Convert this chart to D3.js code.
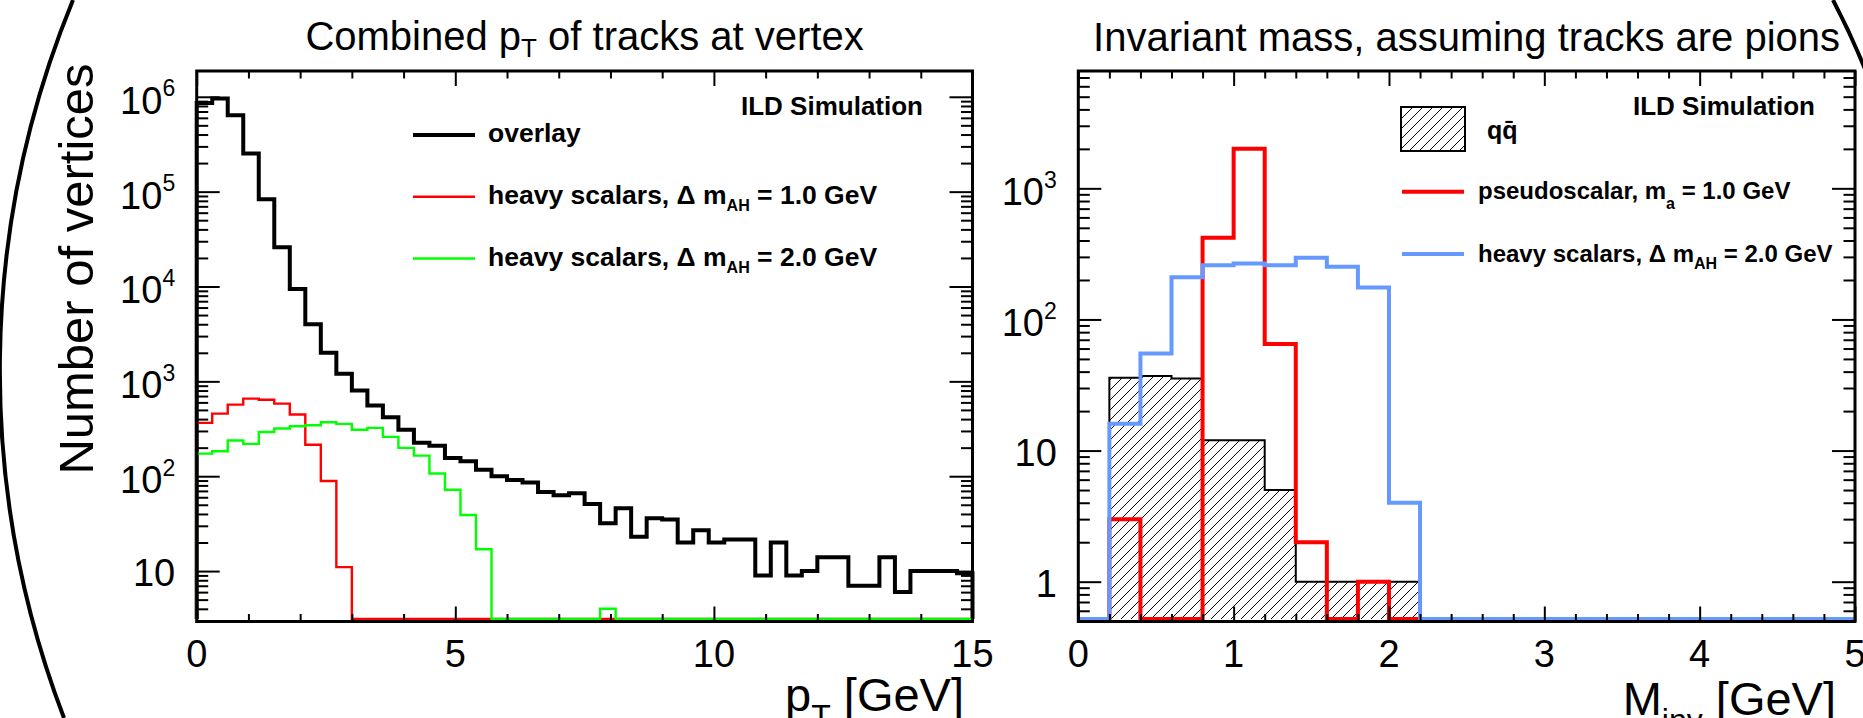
<!DOCTYPE html>
<html>
<head>
<meta charset="utf-8">
<script src="https://cdn.jsdelivr.net/npm/d3@7"></script>
<style>
  body { margin: 0; background: #fff; }
  svg { display: block; }
  svg text { font-family: "Liberation Sans", Arial, Helvetica, sans-serif; }
</style>
</head>
<body>
<script>
// ---- left plot: combined pT of tracks at vertex, 0.3 GeV bins from 0 to 15 ----
var ptBinWidth = 0.3;
var ptOverlay = [8.6e5, 9.6e5, 6.4e5, 2.53e5, 8.3e4, 2.6e4, 9400, 4000, 2000, 1200,
                 800, 555, 418, 309, 225, 210, 156, 144, 117, 100,
                 91, 86, 68, 63, 66, 51, 32, 46, 23, 36,
                 35, 20, 27, 20, 21.5, 21.5, 9, 20, 9, 10,
                 14, 14, 7, 7, 14, 6, 10, 10, 10, 9.5];
var ptHeavy1 = [365, 457, 569, 658, 641, 582, 447, 215, 89, 11,
                0, 0, 0, 0, 0, 0, 0, 0, 0, 0,
                0, 0, 0, 0, 0, 0, 0, 0, 0, 0,
                0, 0, 0, 0, 0, 0, 0, 0, 0, 0,
                0, 0, 0, 0, 0, 0, 0, 0, 0, 0];
var ptHeavy2 = [173, 183, 238, 219, 293, 318, 336, 344, 370, 356,
                309, 323, 260, 199, 165, 107, 72, 39, 17, 0,
                0, 0, 0, 0, 0, 0, 4, 0, 0, 0,
                0, 0, 0, 0, 0, 0, 0, 0, 0, 0,
                0, 0, 0, 0, 0, 0, 0, 0, 0, 0];
var ptXTicks = [0, 5, 10, 15];
var ptYTicks = [10, 1e2, 1e3, 1e4, 1e5, 1e6];
var ptYLabels = ["10", "10^2", "10^3", "10^4", "10^5", "10^6"];

// ---- right plot: invariant mass assuming pions, 0.2 GeV bins from 0 to 5 ----
var mBinWidth = 0.2;
var mQQ     = [0, 36, 37, 35.5, 12, 12, 5, 1, 1, 1, 1, 0, 0, 0, 0, 0, 0, 0, 0, 0, 0, 0, 0, 0, 0];
var mPseudo = [0, 3, 0, 0, 420, 2000, 65, 2, 0, 1, 0, 0, 0, 0, 0, 0, 0, 0, 0, 0, 0, 0, 0, 0, 0];
var mHeavy2 = [0, 16, 55, 210, 259, 267, 259, 295, 252, 175, 4, 0, 0, 0, 0, 0, 0, 0, 0, 0, 0, 0, 0, 0, 0];
var mXTicks = [0, 1, 2, 3, 4, 5];
var mYTicks = [1, 10, 1e2, 1e3];
var mYLabels = ["1", "10", "10^2", "10^3"];

var W = 1863, H = 718;
var svg = d3.select("body").append("svg").attr("width", W).attr("height", H);

var hatch = svg.append("defs").append("pattern")
  .attr("id", "hatch")
  .attr("patternUnits", "userSpaceOnUse")
  .attr("width", 10).attr("height", 10);
hatch.append("path")
  .attr("d", "M-1,1 l2,-2 M0,10 l10,-10 M9,11 l2,-2")
  .attr("stroke", "#000").attr("stroke-width", 1);

// slide border arcs
svg.append("path").attr("d", "M73,0 A974,974 0 0 0 64,718")
  .attr("fill", "none").attr("stroke", "#000").attr("stroke-width", 4);
svg.append("path").attr("d", "M1833,0 A800,800 0 0 1 1893,150")
  .attr("fill", "none").attr("stroke", "#000").attr("stroke-width", 4);

function steps(values, bw) {
  var pts = [[0, 0]];
  values.forEach(function (v, i) { pts.push([i * bw, v], [(i + 1) * bw, v]); });
  pts.push([values.length * bw, 0]);
  return pts;
}

function drawPanel(p) {
  var x = d3.scaleLinear().domain(p.xDomain).range([p.x0, p.x1]);
  var y = d3.scaleLog().domain(p.yDomain).range([p.y1, p.y0]);
  var floorY = p.y1 - 2.5;
  var g = svg.append("g");

  var line = d3.line()
    .x(function (d) { return x(d[0]); })
    .y(function (d) { return d[1] > 0 ? y(d[1]) : floorY; });

  p.series.forEach(function (s) {
    g.append("path")
      .attr("d", line(steps(s.values, p.binWidth)))
      .attr("fill", s.fill || "none")
      .attr("stroke", s.color)
      .attr("stroke-width", s.width)
      .attr("stroke-linejoin", "miter");
  });

  // ticks, all pointing inwards on four sides
  var yMinor = y.ticks().filter(function (v) { return p.yTicks.indexOf(v) < 0; });
  var xMinor = x.ticks(p.xMinorCount).filter(function (v) { return p.xTicks.indexOf(v) < 0; });

  function ax(axis, tx, ty) {
    g.append("g").attr("transform", "translate(" + tx + "," + ty + ")")
      .call(axis.tickFormat(""))
      .call(function (a) { a.select(".domain").remove(); })
      .selectAll("line").attr("stroke", "#000").attr("stroke-width", 2);
  }
  ax(d3.axisBottom(x).tickValues(p.xTicks).tickSize(-15), 0, p.y1);
  ax(d3.axisBottom(x).tickValues(xMinor).tickSize(-7.5), 0, p.y1);
  ax(d3.axisTop(x).tickValues(p.xTicks).tickSize(-15), 0, p.y0);
  ax(d3.axisTop(x).tickValues(xMinor).tickSize(-7.5), 0, p.y0);
  ax(d3.axisLeft(y).tickValues(p.yTicks).tickSize(-23), p.x0, 0);
  ax(d3.axisLeft(y).tickValues(yMinor).tickSize(-11.5), p.x0, 0);
  ax(d3.axisRight(y).tickValues(p.yTicks).tickSize(-23), p.x1, 0);
  ax(d3.axisRight(y).tickValues(yMinor).tickSize(-11.5), p.x1, 0);

  g.append("rect")
    .attr("x", p.x0).attr("y", p.y0)
    .attr("width", p.x1 - p.x0).attr("height", p.y1 - p.y0)
    .attr("fill", "none").attr("stroke", "#000").attr("stroke-width", 3);

  // x tick labels
  g.selectAll(".xl").data(p.xTicks).enter().append("text")
    .attr("x", function (d) { return x(d); })
    .attr("y", 667)
    .attr("text-anchor", "middle")
    .attr("font-size", 38)
    .text(function (d) { return d; });

  // y tick labels, 10^n with superscript
  p.yTicks.forEach(function (v, i) {
    var parts = p.yLabels[i].split("^");
    var t = g.append("text")
      .attr("x", p.x0 - 21.5)
      .attr("y", y(v) + (parts.length > 1 ? 17 : 15))
      .attr("text-anchor", "end")
      .attr("font-size", 38);
    t.append("tspan").text(parts[0]);
    if (parts.length > 1) {
      t.append("tspan").attr("dy", -17.5).attr("font-size", 23).text(parts[1]);
    }
  });
  return { x: x, y: y, g: g };
}

var left = drawPanel({
  xDomain: [0, 15], yDomain: [2.94, 1.87e6],
  x0: 196.7, x1: 972.5, y0: 71, y1: 621.5,
  binWidth: ptBinWidth, xTicks: ptXTicks, xMinorCount: 15,
  yTicks: ptYTicks, yLabels: ptYLabels,
  series: [
    { values: ptOverlay, color: "#000", width: 4 },
    { values: ptHeavy1, color: "#ff0000", width: 2.4 },
    { values: ptHeavy2, color: "#00ff00", width: 2.4 }
  ]
});

var right = drawPanel({
  xDomain: [0, 5], yDomain: [0.497, 7850],
  x0: 1078.3, x1: 1855, y0: 71, y1: 621.5,
  binWidth: mBinWidth, xTicks: mXTicks, xMinorCount: 25,
  yTicks: mYTicks, yLabels: mYLabels,
  series: [
    { values: mQQ, color: "#000", width: 2, fill: "url(#hatch)" },
    { values: mPseudo, color: "#ff0000", width: 4 },
    { values: mHeavy2, color: "#6699ff", width: 4 }
  ]
});

// titles
function subText(x, y, size, anchor, weight, pieces) {
  var t = svg.append("text").attr("x", x).attr("y", y)
    .attr("text-anchor", anchor).attr("font-size", size).attr("font-weight", weight);
  var shift = 0;
  pieces.forEach(function (pc) {
    var ts = t.append("tspan").text(pc.t);
    var want = pc.dy || 0;
    if (want !== shift) { ts.attr("dy", want - shift); shift = want; }
    ts.attr("font-size", pc.s || size);
  });
  return t;
}

subText(584.6, 50, 40, "middle", "normal", [
  { t: "Combined p" }, { t: "T", s: 26, dy: 7 }, { t: " of tracks at vertex" }
]);
svg.append("text").attr("x", 1466.6).attr("y", 50.5)
  .attr("text-anchor", "middle").attr("font-size", 40)
  .text("Invariant mass, assuming tracks are pions");

svg.append("text")
  .attr("transform", "translate(93,269) rotate(-90)")
  .attr("text-anchor", "middle").attr("font-size", 49)
  .text("Number of vertices");

subText(964, 711, 47, "end", "normal", [
  { t: "p" }, { t: "T", s: 32, dy: 16 }, { t: " [GeV]" }
]);
subText(1836, 715, 47, "end", "normal", [
  { t: "M" }, { t: "inv", s: 32, dy: 16 }, { t: " [GeV]" }
]);

// ILD labels
svg.append("text").attr("x", 923).attr("y", 115).attr("text-anchor", "end")
  .attr("font-size", 26).attr("font-weight", "bold").text("ILD Simulation");
svg.append("text").attr("x", 1815).attr("y", 115).attr("text-anchor", "end")
  .attr("font-size", 26).attr("font-weight", "bold").text("ILD Simulation");

// left legend
var legL = [
  { color: "#000", width: 4, y: 135, pieces: [{ t: "overlay" }] },
  { color: "#ff0000", width: 2.4, y: 196.7, pieces: [{ t: "heavy scalars, \u0394 m" }, { t: "AH", s: 16, dy: 7.5 }, { t: " = 1.0 GeV" }] },
  { color: "#00ff00", width: 2.4, y: 258.5, pieces: [{ t: "heavy scalars, \u0394 m" }, { t: "AH", s: 16, dy: 7.5 }, { t: " = 2.0 GeV" }] }
];
legL.forEach(function (l) {
  svg.append("line").attr("x1", 413).attr("x2", 475).attr("y1", l.y).attr("y2", l.y)
    .attr("stroke", l.color).attr("stroke-width", l.width);
  subText(488, l.y + 7, 26.5, "start", "bold", l.pieces);
});

// right legend
svg.append("rect").attr("x", 1401).attr("y", 107).attr("width", 64).attr("height", 44)
  .attr("fill", "url(#hatch)").attr("stroke", "#000").attr("stroke-width", 2);
svg.append("text").attr("x", 1487).attr("y", 139).attr("font-size", 25)
  .attr("font-weight", "bold").text("qq\u0304");
var legR = [
  { color: "#ff0000", y: 191.7, pieces: [{ t: "pseudoscalar, m" }, { t: "a", s: 16, dy: 10 }, { t: " = 1.0 GeV" }] },
  { color: "#6699ff", y: 254, pieces: [{ t: "heavy scalars, \u0394 m" }, { t: "AH", s: 16, dy: 7 }, { t: " = 2.0 GeV" }] }
];
legR.forEach(function (l) {
  svg.append("line").attr("x1", 1402).attr("x2", 1464).attr("y1", l.y).attr("y2", l.y)
    .attr("stroke", l.color).attr("stroke-width", 4);
  subText(1478, l.y + 7.5, 24, "start", "bold", l.pieces);
});
</script>
</body>
</html>
